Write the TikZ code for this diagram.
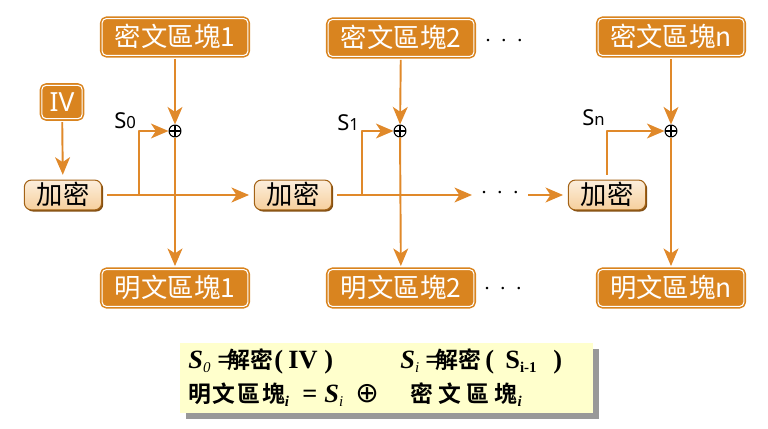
\documentclass[tikz,border=0pt]{standalone}
\usepackage{fontspec}
\setmainfont{Liberation Serif}
\newfontfamily\zh{Noto Sans CJK TC}
\newfontfamily\zhb{Noto Sans CJK TC Bold}
\newfontfamily\sa{Noto Sans}
\newfontfamily\djv{DejaVu Sans}
\usetikzlibrary{arrows.meta,shadows}
\definecolor{cheng}{HTML}{D9841F}
\definecolor{xian}{HTML}{E0892A}
\definecolor{tao}{HTML}{F6CF9C}
\definecolor{huang}{HTML}{FFFFCC}
\begin{document}
\begin{tikzpicture}[x=0.02cm, y=-0.02cm, >={Stealth[length=10pt,width=8.5pt,inset=2.8pt]}, line join=round,
  kuai/.style={draw=cheng, line width=0.9pt, double=white, double distance=0.6pt, fill=cheng,
    rounded corners=2.5pt, text=white, font=\zh\fontsize{15}{15}\selectfont, text height=13pt,
    text depth=1.8pt, minimum width=83pt, minimum height=21pt, inner sep=0pt, outer sep=2pt},
  jiami/.style={draw=cheng!75!black, line width=0.6pt, rounded corners=4pt, top color=tao!35,
    bottom color=tao, drop shadow={shadow xshift=0.9pt, shadow yshift=-0.9pt, fill=cheng!60!black, opacity=1},
    font=\zh\fontsize{15}{15}\selectfont, text height=13pt, text depth=1.8pt,
    minimum width=44pt, minimum height=17pt, inner sep=0pt, outer sep=3pt},
  xor/.style={circle, draw, line width=0.6pt, minimum size=6.8pt, inner sep=0pt,
    path picture={\draw[line width=0.6pt] (path picture bounding box.north) -- (path picture bounding box.south)
      (path picture bounding box.west) -- (path picture bounding box.east);}},
  lian/.style={draw=xian, line width=1.1pt},
  sn/.style={anchor=base west, inner sep=0pt, font=\sa\fontsize{12.5}{12.5}\selectfont},
  dd/.style={inner sep=0pt, font=\fontsize{12}{12}\selectfont},
  gs/.style={anchor=base west, inner sep=0pt, font=\bfseries\fontsize{15}{15}\selectfont},
  gz/.style={anchor=base west, inner sep=0pt, font=\zhb\fontsize{13}{13}\selectfont}]
\def\xia#1{\raisebox{-.4ex}{\fontsize{8.5}{8.5}\selectfont #1}}
\def\xi{\xia{\rmfamily\bfseries\itshape i}}
\useasboundingbox (0,0) rectangle (768,429);
% blocks
\node[kuai] (c1) at (175,37) {密文區塊1};
\node[kuai] (c2) at (401,38) {密文區塊2};
\node[kuai] (cn) at (671,37) {密文區塊n};
\node[kuai] (p1) at (175,288) {明文區塊1};
\node[kuai] (p2) at (401,288) {明文區塊2};
\node[kuai] (pn) at (671,288) {明文區塊n};
\node[kuai, minimum width=23pt, minimum height=19pt, font=\sa\fontsize{15}{15}\selectfont] (iv) at (62,102) {IV};
\node[jiami] (e1) at (63,195) {加密};
\node[jiami] (e2) at (293,195) {加密};
\node[jiami] (en) at (607,195) {加密};
\node[xor] (x1) at (175,131) {};
\node[xor] (x2) at (400,131) {};
\node[xor] (xn) at (671,131) {};
\node[sn] (s0) at (114,129) {S{\fontsize{9.5}{9.5}\selectfont 0}};
\node[sn] (s1) at (337,131) {S{\fontsize{9.5}{9.5}\selectfont 1}};
\node[sn] (sn) at (582,126) {S{\fontsize{9.5}{9.5}\selectfont n}};
\node[dd] (d1) at (504,43) {·\hspace{5pt}·\hspace{5pt}·};
\node[dd] (d2) at (500,195) {·\hspace{5pt}·\hspace{5pt}·};
\node[dd] (d3) at (503,291) {·\hspace{5pt}·\hspace{5pt}·};
\coordinate (b1) at (139,195);
\coordinate (b2) at (362,195);
\coordinate (g1) at (472,195);
\coordinate (g2) at (528,195);
% connectors
\foreach \i in {1,2,n}{
  \draw[lian,->] (c\i) -- (x\i);
  \draw[lian,->] (x\i) -- (p\i);
}
\draw[lian,->] (iv) -- (e1);
\draw[lian,->] (e1) -- (e2);
\draw[lian,->] (e2) -- (g1);
\draw[lian,->] (g2) -- (en);
\draw[lian,->] (b1) |- (x1);
\draw[lian,->] (b2) |- (x2);
\draw[lian,->] (en) |- (xn);
% formula box
\fill[black!40] (186,349) rectangle (599,419);
\fill[huang] (180,343) rectangle (593,413);
\node[gs] (f1) at (188,368) {\textit{S}\xia{\textit{\mdseries 0}}};
\node[gs] (f2) at (217,368) {=};
\node[gz] (f3) at (227,368) {解密};
\node[gs] (f4) at (274,368) {(};
\node[gs] (f5) at (288,368) {IV};
\node[gs] (f6) at (324,368) {)};
\node[gs] (f7) at (400,368) {\textit{S}\xia{\textit{\mdseries i}}};
\node[gs] (f8) at (425,368) {=};
\node[gz] (f9) at (435,368) {解密};
\node[gs] (f10) at (485,368) {(};
\node[gs] (f11) at (505,368) {S\xia{i-1}};
\node[gs] (f12) at (553,368) {)};
\node[gz] (f13) at (188,402) {明\hspace{1pt}文\hspace{1pt}區\hspace{1pt}塊\xi};
\node[gs] (f14) at (302,402) {=};
\node[gs] (f15) at (324,402) {\textit{S}\xia{\textit{\mdseries i}}};
\node[gs] (f16) at (355,402) {\djv\mdseries\fontsize{16}{16}\selectfont ⊕};
\node[gz] (f17) at (410,402) {密\hspace{3pt}文\hspace{3pt}區\hspace{3pt}塊\xi};
\end{tikzpicture}
\end{document}
